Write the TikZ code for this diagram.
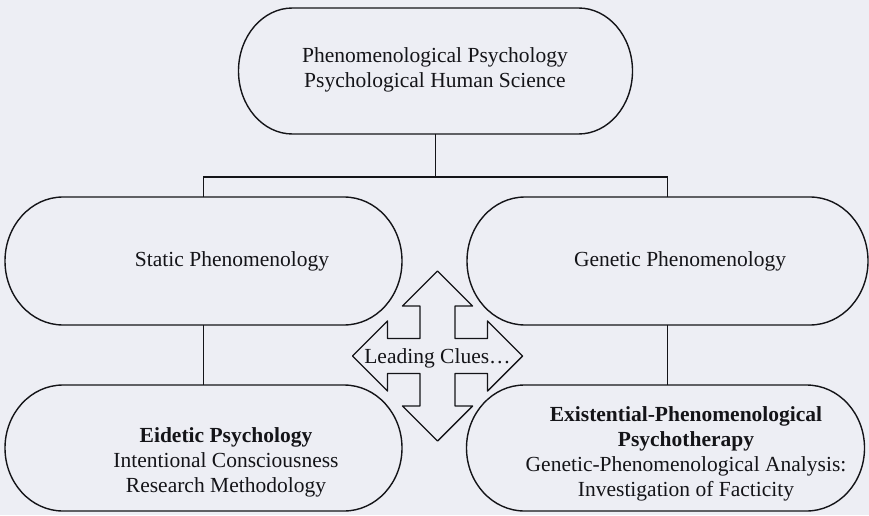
\documentclass[tikz,border=0pt]{standalone}
\usepackage{fontspec}
\setmainfont{Liberation Serif}
\definecolor{paper}{RGB}{237,238,244}
\definecolor{ink}{RGB}{20,20,24}
\tikzset{
  outline/.style={draw=ink, line width=1.4pt, line join=round},
  conn/.style={draw=ink, line width=1.3pt},
  box/.style={rectangle, inner sep=0pt, outer sep=0pt},
  label/.style={align=center, inner sep=0pt, text=ink, font={\fontsize{21.5pt}{25pt}\selectfont}}
}
\newcommand\capsuleoutline[3]{%
  \draw[outline] ([xshift=#2]#1.north west) -- ([xshift=-#2]#1.north east)
    arc[start angle=90, end angle=-90, x radius=#2, y radius=#3]
    -- ([xshift=#2]#1.south west)
    arc[start angle=270, end angle=90, x radius=#2, y radius=#3] -- cycle;}
\begin{document}
\begin{tikzpicture}[x=1pt, y=1pt]
  \fill[paper] (0,0) rectangle (869,515);
  \useasboundingbox (0,0) rectangle (869,515);

  % shape nodes
  \node[box, minimum width=394pt, minimum height=126pt] (top) at (435.5,444) {};
  \node[box, minimum width=397pt, minimum height=128pt] (static) at (203.5,254) {};
  \node[box, minimum width=401pt, minimum height=128pt] (genetic) at (667.5,254) {};
  \node[box, minimum width=397pt, minimum height=126pt] (eidetic) at (203.5,67) {};
  \node[box, minimum width=398pt, minimum height=126pt] (exist) at (665.5,67) {};

  \capsuleoutline{top}{54pt}{63pt}
  \capsuleoutline{static}{58pt}{64pt}
  \capsuleoutline{genetic}{58pt}{64pt}
  \capsuleoutline{eidetic}{58pt}{63pt}
  \capsuleoutline{exist}{58pt}{63pt}

  % texts
  \node[label] (toptext) at (435,445) {Phenomenological Psychology\\Psychological Human Science};
  \node[label] (statictext) at (232,254) {Static Phenomenology};
  \node[label] (genetictext) at (680,254) {Genetic Phenomenology};
  \node[label] (eidetictext) at (226,53) {\textbf{Eidetic Psychology}\\Intentional Consciousness\\Research Methodology};
  \node[label] (existtext) at (686,61) {\textbf{Existential-Phenomenological}\\\textbf{Psychotherapy}\\Genetic-Phenomenological Analysis:\\Investigation of Facticity};

  % connectors
  \coordinate (junction) at (435.5,338);
  \draw[conn] (top.south) -- (junction);
  \draw[conn] (static.north) -- (static.north |- junction) -- (genetic.north |- junction) -- (genetic.north);
  \draw[conn] (static.south) -- (static.south |- eidetic.north);
  \draw[conn] (genetic.south) -- (genetic.south |- exist.north);

  % four-way arrow
  \begin{scope}[shift={(437.5,159)}]
    \draw[outline] (0,85) -- (35,50) -- (17.5,50) -- (17.5,17.5) -- (50,17.5) -- (50,35)
      -- (85,0) -- (50,-35) -- (50,-17.5) -- (17.5,-17.5) -- (17.5,-50) -- (35,-50)
      -- (0,-85) -- (-35,-50) -- (-17.5,-50) -- (-17.5,-17.5) -- (-50,-17.5) -- (-50,-35)
      -- (-85,0) -- (-50,35) -- (-50,17.5) -- (-17.5,17.5) -- (-17.5,50) -- (-35,50) -- cycle;
  \end{scope}
  \node[label] (clues) at (437.5,157) {Leading Clues…};
\end{tikzpicture}
\end{document}
